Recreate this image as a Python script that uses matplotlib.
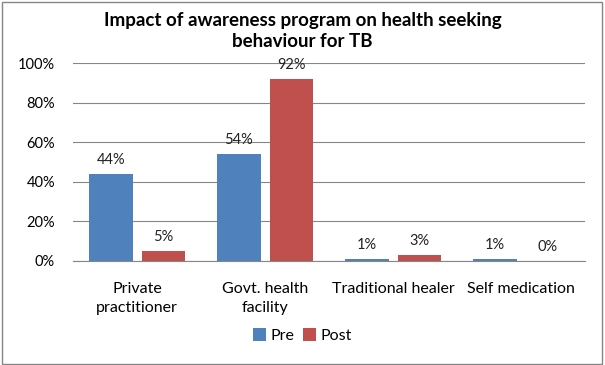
import numpy as np
import matplotlib
matplotlib.use("Agg")
import matplotlib.pyplot as plt
from matplotlib.patches import Rectangle

# Data
categories = ["Private\npractitioner", "Govt. health\nfacility", "Traditional healer", "Self medication"]
pre = [44, 54, 1, 1]
post = [5, 92, 3, 0]
series_names = ["Pre", "Post"]
yticks = [0, 20, 40, 60, 80, 100]

plt.rcParams['font.family'] = ['Lato', 'DejaVu Sans']

fig = plt.figure(figsize=(6.05, 3.65), dpi=100)
ax = fig.add_axes([0.1207, 0.285, 0.8463, 0.542])

blue = '#4f81bd'
red = '#c0504d'
x = np.arange(len(categories))
w = 0.34
off = 0.205
b1 = ax.bar(x - off, pre, w, color=blue, label=series_names[0], zorder=3)
b2 = ax.bar(x + off, post, w, color=red, label=series_names[1], zorder=3)

for bars, vals in ((b1, pre), (b2, post)):
    for r, v in zip(bars, vals):
        ax.text(r.get_x() + r.get_width() / 2, v + 3.5, f"{v}%", ha='center', va='bottom',
                fontsize=10.5, color='#222222')

ax.set_xlim(-0.5, len(categories) - 0.5)
ax.set_ylim(0, 100)
ax.set_yticks(yticks)
ax.set_yticklabels([f"{t}%" for t in yticks], fontsize=10.5)
ax.set_xticks(x)
ax.set_xticklabels(categories, fontsize=11.5, linespacing=1.45)
ax.grid(axis='y', color='#868686', linewidth=0.8, zorder=0)
ax.tick_params(axis='both', length=0)
ax.tick_params(axis='y', pad=13)
ax.tick_params(axis='x', pad=15)
for s in ('top', 'right', 'left'):
    ax.spines[s].set_visible(False)
ax.spines['bottom'].set_color('#868686')
ax.spines['bottom'].set_zorder(4)

fig.text(0.5, 0.915, "Impact of awareness program on health seeking\nbehaviour for TB",
         ha='center', va='center', fontsize=13.5, fontweight='bold', linespacing=1.35)

fig.legend(handles=[b1, b2], loc='center', bbox_to_anchor=(0.5, 0.08), ncol=2,
           frameon=False, fontsize=11.5, handlelength=0.8, handleheight=0.8,
           handletextpad=0.3, columnspacing=0.5)

fig.patches.append(Rectangle((0.003, 0.004), 0.992, 0.99, transform=fig.transFigure,
                             fill=False, edgecolor='#868686', linewidth=1))

fig.savefig("out.png", dpi=100)
